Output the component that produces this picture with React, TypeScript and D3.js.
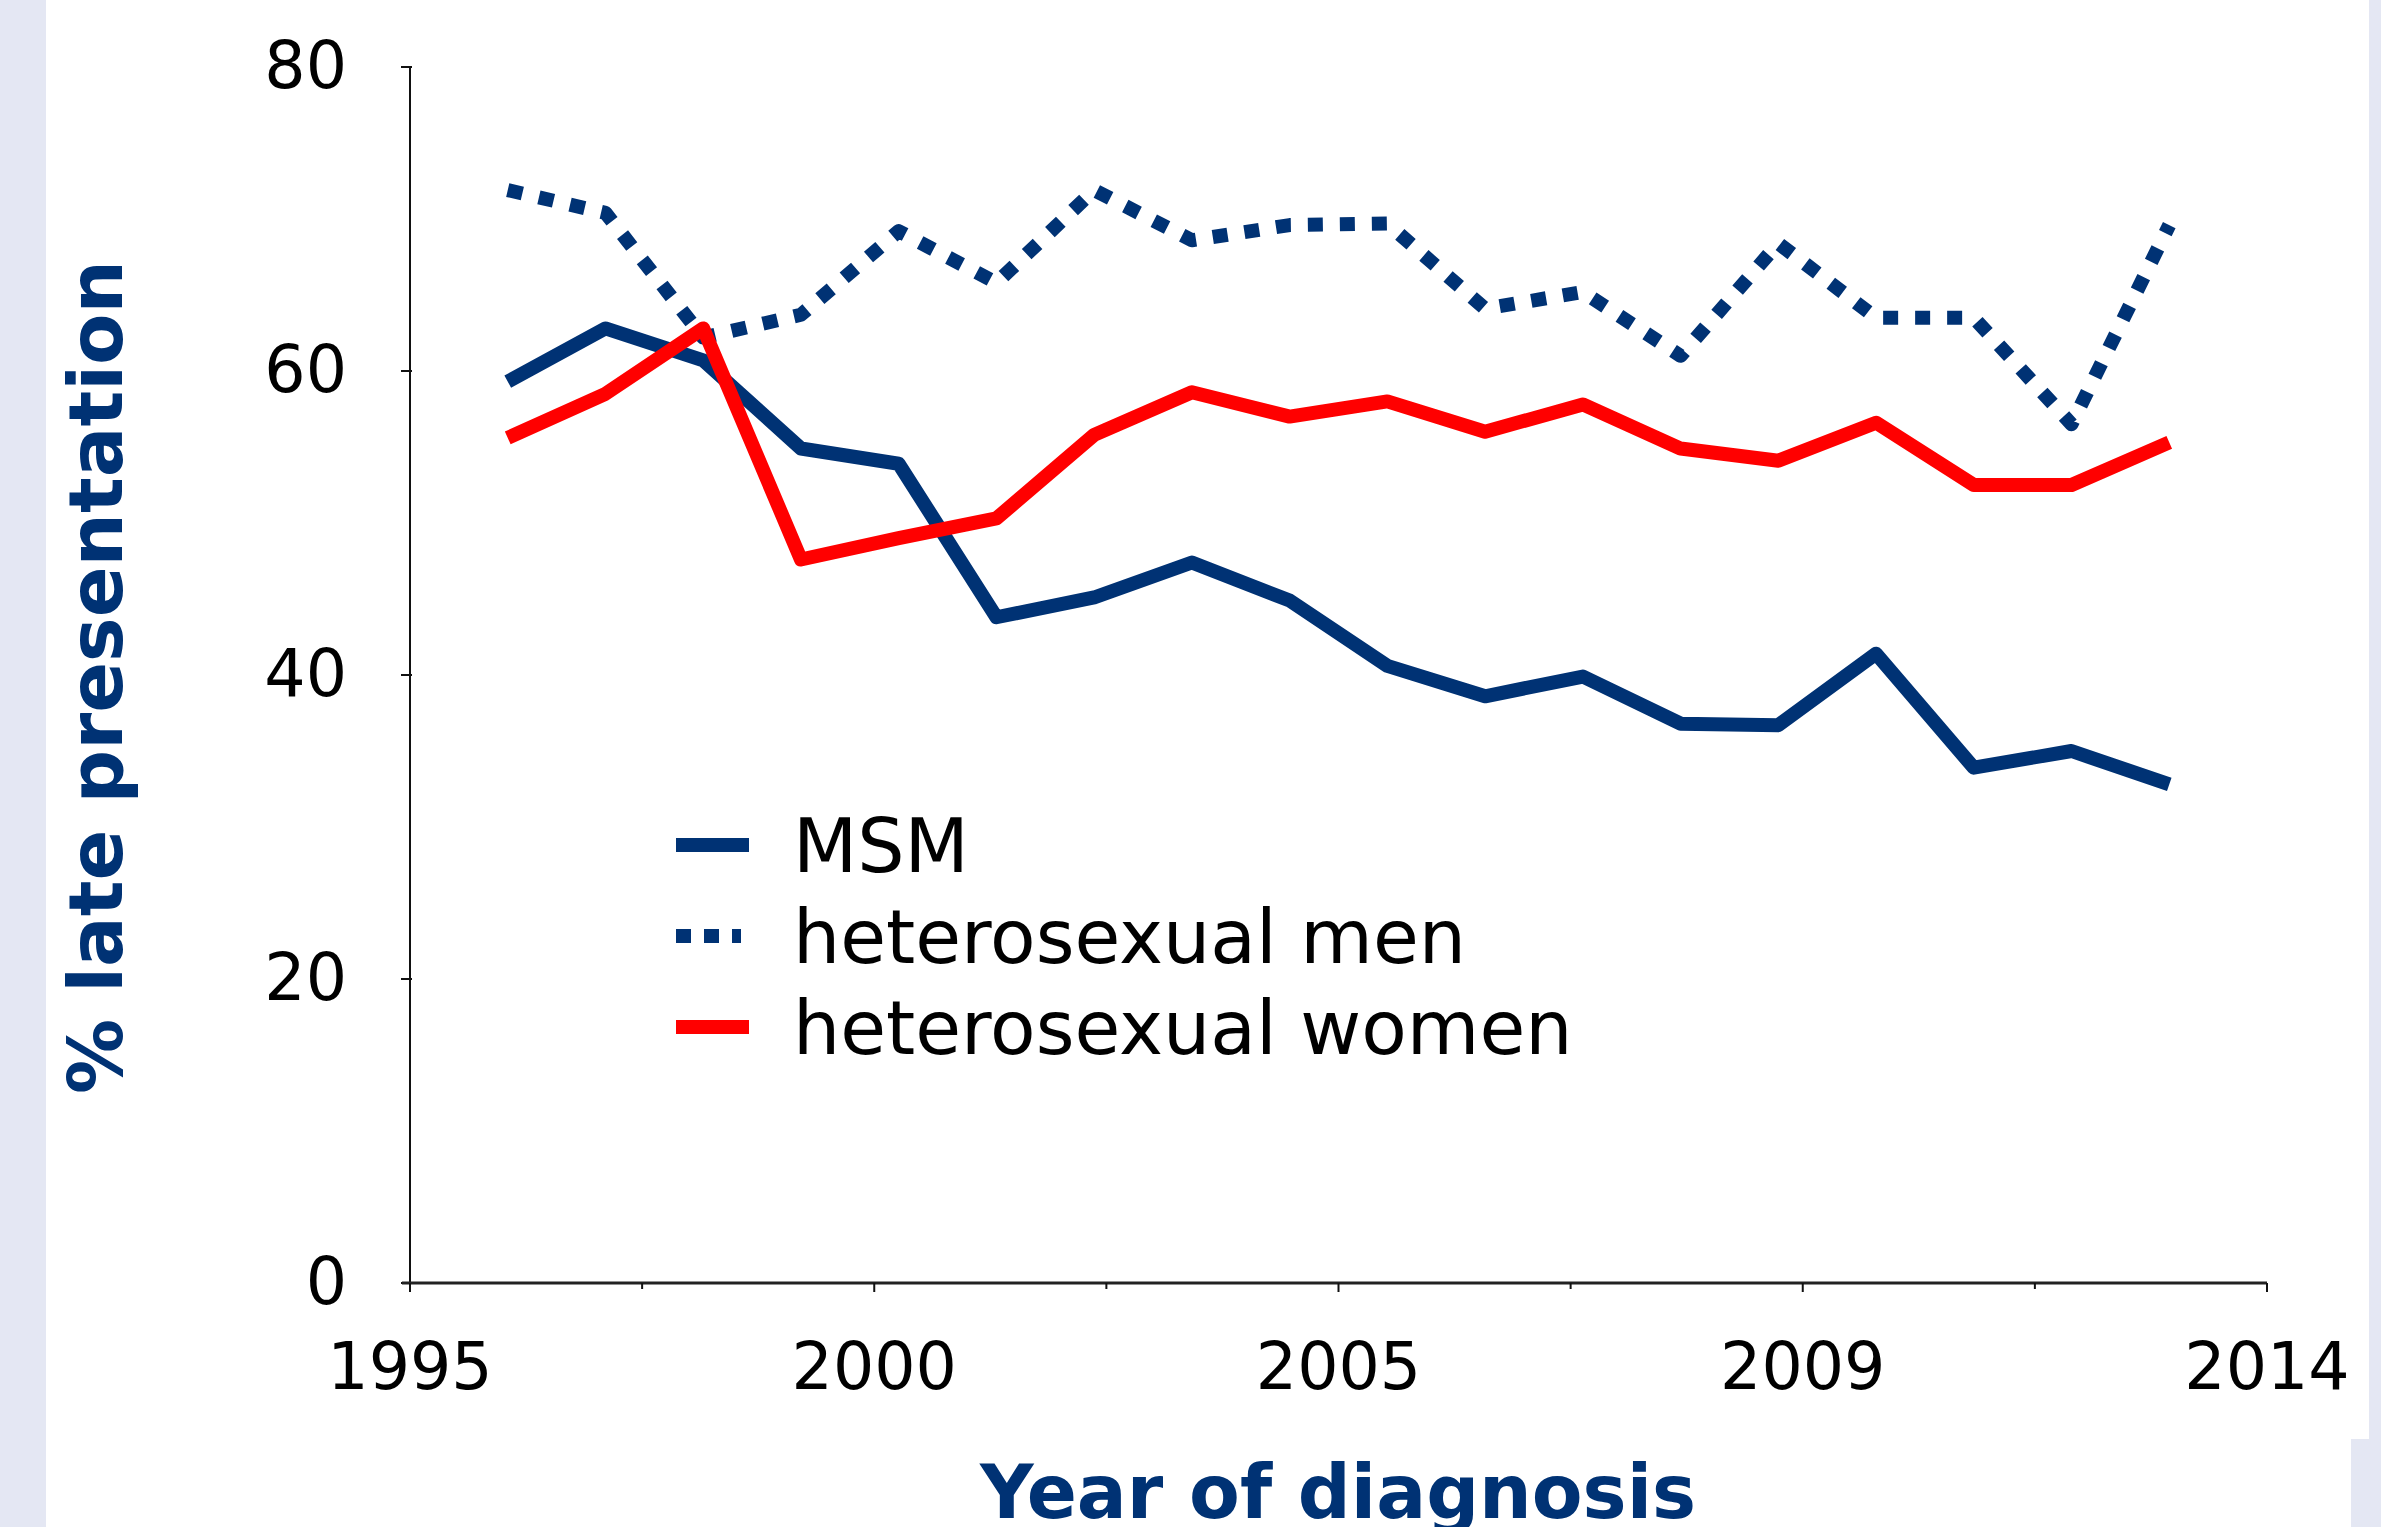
import React from "react";
import * as d3 from "d3";

const years = [1996, 1997, 1998, 1999, 2000, 2001, 2002, 2003, 2004, 2005, 2006, 2007, 2008, 2009, 2010, 2011, 2012, 2013];
const msm = [59.3, 62.8, 60.7, 54.9, 53.9, 43.8, 45.1, 47.4, 44.9, 40.6, 38.6, 39.9, 36.8, 36.7, 41.4, 33.9, 35.0, 32.8];
const hetMen = [71.9, 70.4, 62.2, 63.7, 69.2, 65.8, 71.9, 68.6, 69.6, 69.7, 64.1, 65.2, 61.0, 68.4, 63.5, 63.5, 56.5, 69.6];
const hetWomen = [55.6, 58.5, 62.8, 47.6, 49.0, 50.3, 55.8, 58.6, 57.0, 58.0, 56.0, 57.8, 54.9, 54.1, 56.6, 52.5, 52.5, 55.3];
const xTickLabels = ["1995", "2000", "2005", "2009", "2014"];
const yTicks = [0, 20, 40, 60, 80];
const seriesNames = ["MSM", "heterosexual men", "heterosexual women"];

const NAVY = "#003274";
const RED = "#ff0000";
const LAV = "#e4e7f3";

export default function App() {
  const W = 2381, H = 1527;
  const x = d3.scaleLinear().domain([1995, 2014]).range([410, 2267]);
  const y = d3.scaleLinear().domain([0, 80]).range([1283, 67]);
  const tickIdx = d3.scaleLinear().domain([0, 8]).range(x.range());
  const line = d3.line<number>().x((_, i) => x(years[i])).y((d) => y(d));

  const series = [
    { name: seriesNames[0], values: msm, color: NAVY, dash: undefined },
    { name: seriesNames[1], values: hetMen, color: NAVY, dash: "15 17" },
    { name: seriesNames[2], values: hetWomen, color: RED, dash: undefined },
  ];

  const font = "'DejaVu Sans', Verdana, sans-serif";

  return (
    <svg width={W} height={H} style={{ position: "absolute", left: 0, top: 0, background: "#fff" }} fontFamily={font}>
      <rect x={0} y={0} width={W} height={H} fill="#fff" />
      <rect x={0} y={0} width={46} height={H} fill={LAV} />
      <rect x={2369} y={0} width={W - 2369} height={H} fill={LAV} />
      <rect x={2351} y={1439} width={W - 2351} height={H - 1439} fill={LAV} />

      {/* y axis */}
      <line x1={x.range()[0]} x2={x.range()[0]} y1={y(80)} y2={y(0)} stroke="#111" strokeWidth={2} />
      {yTicks.map((t) => (
        <g key={t}>
          <line x1={x.range()[0] - 9} x2={x.range()[0] + 2} y1={y(t)} y2={y(t)} stroke="#111" strokeWidth={2} />
          <text x={347} y={y(t) + 3} textAnchor="end" dominantBaseline="middle" fontSize={65} fill="#000">{t}</text>
        </g>
      ))}

      {/* x axis */}
      <line x1={x.range()[0] - 8} x2={x.range()[1]} y1={y(0)} y2={y(0)} stroke="#222" strokeWidth={3} />
      {d3.range(0, 9).map((i) => (
        <line key={i} x1={tickIdx(i)} x2={tickIdx(i)} y1={y(0)} y2={y(0) + (i % 2 === 0 ? 9 : 6)} stroke="#111" strokeWidth={2} />
      ))}
      {xTickLabels.map((l, i) => (
        <text key={l} x={tickIdx(i * 2)} y={1389} textAnchor="middle" fontSize={65} fill="#000">{l}</text>
      ))}

      {/* series */}
      {series.map((s) => (
        <path key={s.name} d={line(s.values) || ""} fill="none" stroke={s.color} strokeWidth={14}
          strokeDasharray={s.dash} strokeLinejoin="round" strokeLinecap="butt" />
      ))}

      {/* legend */}
      {series.map((s, i) => {
        const cy = 845 + i * 91;
        return (
          <g key={s.name}>
            <line x1={676} x2={s.dash ? 741 : 749} y1={cy} y2={cy} stroke={s.color} strokeWidth={14} strokeDasharray={s.dash ? "15 13" : undefined} />
            <text x={793} y={cy + 27} fontSize={74.5} fill="#000">{s.name}</text>
          </g>
        );
      })}

      {/* axis titles */}
      <text x={1338} y={1518} textAnchor="middle" fontSize={74} fontWeight="bold" fill={NAVY}>Year of diagnosis</text>
      <text transform={`translate(122, 677) rotate(-90)`} textAnchor="middle" fontSize={75} fontWeight="bold" fill={NAVY}>% late presentation</text>
    </svg>
  );
}
